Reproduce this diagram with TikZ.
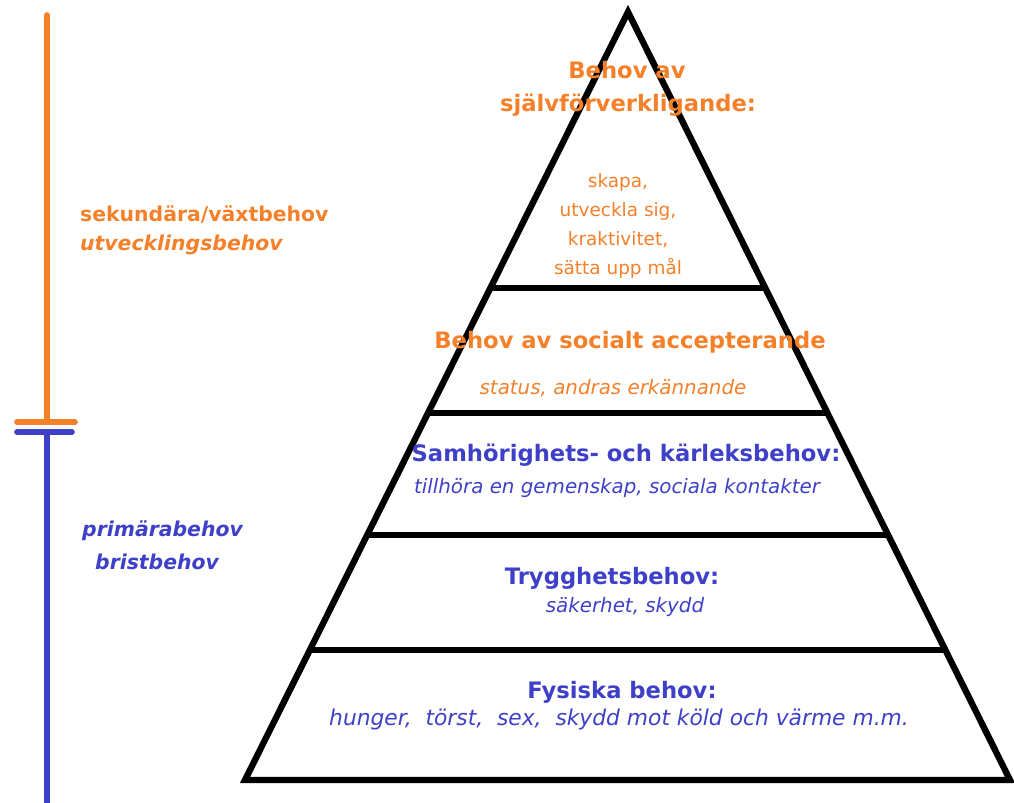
\documentclass[tikz,border=0pt]{standalone}
\usepackage{fontspec}
\setmainfont{DejaVu Sans}
\definecolor{needorange}{RGB}{244,128,42}
\definecolor{needblue}{RGB}{62,64,200}

\begin{document}
\begin{tikzpicture}[x=0.02cm,y=-0.02cm,
  wall/.style={line width=3.6pt,line join=miter},
  bar/.style={line width=3.2pt,line cap=round},
  title/.style={font=\bfseries\fontsize{12.9}{15}\selectfont},
  sub/.style={font=\itshape\fontsize{11.3}{13}\selectfont},
  side/.style={font=\bfseries\fontsize{11.6}{14}\selectfont,anchor=west}]

\useasboundingbox (0,0) rectangle (1014,803);

% left scale
\draw [bar,needorange] (47,15) -- (47,422);
\draw [bar,needorange] (17,422) -- (75,422);
\draw [bar,needblue] (17,432) -- (72,432);
\draw [bar,needblue,line cap=butt] (47,432) -- (47,803);

\node [side,needorange] (sek) at (74,215) {sekundära/växtbehov};
\node [side,needorange,font=\bfseries\itshape\fontsize{11.6}{14}\selectfont] (utv) at (74,245) {utvecklingsbehov};
\node [side,needblue,font=\bfseries\itshape\fontsize{11.6}{14}\selectfont] (prim) at (76,531) {primärabehov};
\node [side,needblue,font=\bfseries\itshape\fontsize{11.6}{14}\selectfont] (brist) at (89,562) {bristbehov};

% pyramid
\draw [wall] (628,12) -- (1010,780) -- (245,780) -- cycle;
\draw [wall] (490,288) -- (766,288);
\draw [wall] (428,413) -- (828,413);
\draw [wall] (368,535) -- (886,535);
\draw [wall] (310,650) -- (944,650);

% texts in the levels
\node [title,needorange] (self1) at (627,70) {Behov av};
\node [title,needorange] (self2) at (628,105) {självförverkligande:};
\node [needorange,align=center,font=\fontsize{10.5}{16.5}\selectfont] (selflist) at (618,226) {skapa,\\utveckla sig,\\kraktivitet,\\sätta upp mål};

\node [title,needorange] (soc) at (630,342) {Behov av socialt accepterande};
\node [sub,needorange] (socsub) at (613,388) {status, andras erkännande};

\node [title,needblue] (sam) at (626,455) {Samhörighets- och kärleksbehov:};
\node [sub,needblue] (samsub) at (617,488) {tillhöra en gemenskap, sociala kontakter};

\node [title,needblue] (tryg) at (612,578) {Trygghetsbehov:};
\node [sub,needblue] (trygsub) at (625,607) {säkerhet, skydd};

\node [title,needblue] (fys) at (622,692) {Fysiska behov:};
\node [sub,needblue,font=\itshape\fontsize{12.4}{14}\selectfont] (fyssub) at (619,719) {hunger,\ \ törst,\ \ sex,\ \ skydd mot köld och värme m.m.};

\end{tikzpicture}
\end{document}
